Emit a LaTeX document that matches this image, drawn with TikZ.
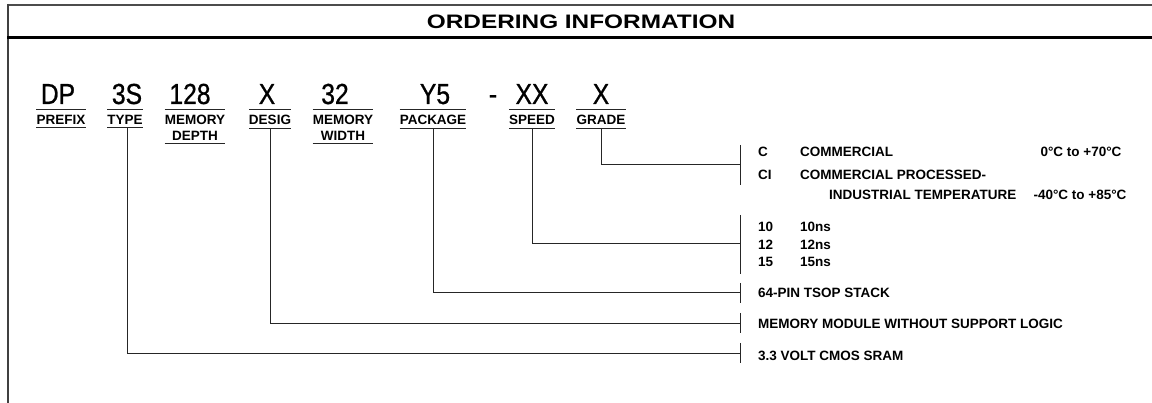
\documentclass[tikz,border=0pt]{standalone}
\usepackage{fontspec}
\setmainfont{Liberation Sans}
\newfontfamily\codefont[FakeStretch=0.85,FakeBold=0.8]{Liberation Sans}
\newfontfamily\headfont[FakeStretch=1.25]{Liberation Sans}
\newfontfamily\lblfont[FakeStretch=1.0]{Liberation Sans}

\begin{document}
\begin{tikzpicture}[x=1pt,y=-1pt]
    \pgfmathsetmacro{\tickx}{740}
    \pgfmathsetmacro{\colA}{758}
    \pgfmathsetmacro{\colB}{800}
    \pgfmathsetmacro{\codey}{104}
    \pgfmathsetmacro{\labely}{115}
    \providecommand{\headfontsize}{\headfont\bfseries\fontsize{19.5pt}{22pt}\selectfont}
    \providecommand{\codefontsize}{\codefont\fontsize{29pt}{31pt}\selectfont}
    \providecommand{\labelfontsize}{\lblfont\bfseries\fontsize{13.5pt}{15.5pt}\selectfont}
    \providecommand{\optfontsize}{\bfseries\fontsize{13.5pt}{15pt}\selectfont}
    \tikzset{
        code/.style={anchor=base,font=\codefontsize,inner sep=0},
        lbl/.style={anchor=north,font=\labelfontsize,align=center,inner sep=0},
        opt/.style={anchor=base west,font=\optfontsize,inner sep=0},
        conn/.style={line width=0.9pt,black!85}
    }
    \useasboundingbox (0,0) rectangle (1152,403);
    % frame and header
    \draw[line width=2pt,black!70] (8,5) -- (1152,5);
    \draw[line width=2pt,black!75] (8,4) -- (8,403);
    \draw[line width=3pt] (7,38) -- (1152,38);
    \node[font=\headfontsize,inner sep=0] (title) at (581,22) {ORDERING INFORMATION};
    % part number fields
    \node[code] (dp) at (58,\codey) {DP};
    \node[code] (ts) at (127,\codey) {3S};
    \node[code] (depthval) at (190,\codey) {128};
    \node[code] (desigval) at (267,\codey) {X};
    \node[code] (widthval) at (335,\codey) {32};
    \node[code] (pkgval) at (435,\codey) {Y5};
    \node[code] (dash) at (493,\codey) {-};
    \node[code] (speedval) at (532,\codey) {XX};
    \node[code] (gradeval) at (601,\codey) {X};
    \node[lbl] (prefix) at (61,\labely) {PREFIX};
    \node[lbl] (type) at (125,\labely) {TYPE};
    \node[lbl] (memdepth) at (195,\labely) {MEMORY\\DEPTH};
    \node[lbl] (desig) at (270,\labely) {DESIG};
    \node[lbl] (memwidth) at (343,\labely) {MEMORY\\WIDTH};
    \node[lbl] (package) at (433,\labely) {PACKAGE};
    \node[lbl] (speed) at (532,\labely) {SPEED};
    \node[lbl] (grade) at (601,\labely) {GRADE};
    \foreach \lbl in {prefix,type,memdepth,desig,memwidth,package,speed,grade}
        \draw[conn] ([yshift=6pt]\lbl.north west) -- ([yshift=6pt]\lbl.north east)
            ([yshift=-3pt]\lbl.south west) -- ([yshift=-3pt]\lbl.south east);
    % options
    \node[opt] (gc) at (\colA,157) {C};
    \node[opt] (gctext) at (\colB,157) {COMMERCIAL};
    \node[opt,anchor=base] (gctemp) at (1081,157) {0°C to +70°C};
    \node[opt] (gci) at (\colA,180) {CI};
    \node[opt] (gcitext) at (\colB,180) {COMMERCIAL PROCESSED-};
    \node[opt] (gind) at (829,200) {INDUSTRIAL TEMPERATURE};
    \node[opt,anchor=base] (gindtemp) at (1080,200) {-40°C to +85°C};
    \node[opt] (s10) at (\colA,232) {10};
    \node[opt] (s10text) at (\colB,232) {10ns};
    \node[opt] (s12) at (\colA,250) {12};
    \node[opt] (s12text) at (\colB,250) {12ns};
    \node[opt] (s15) at (\colA,267) {15};
    \node[opt] (s15text) at (\colB,267) {15ns};
    \node[opt] (pkgtext) at (\colA,298) {64-PIN TSOP STACK};
    \node[opt] (desigtext) at (\colA,329) {MEMORY MODULE WITHOUT SUPPORT LOGIC};
    \node[opt] (typetext) at (\colA,361) {3.3 VOLT CMOS SRAM};
    % brackets
    \coordinate (gradetick) at (\tickx,164);
    \coordinate (speedtick) at (\tickx,243);
    \coordinate (pkgtick) at (\tickx,292);
    \coordinate (desigtick) at (\tickx,323);
    \coordinate (typetick) at (\tickx,353);
    \draw[conn] (\tickx,145) -- (\tickx,185);
    \draw[conn] (\tickx,215) -- (\tickx,274);
    \draw[conn] (\tickx,283) -- (\tickx,303);
    \draw[conn] (\tickx,313) -- (\tickx,333);
    \draw[conn] (\tickx,343) -- (\tickx,363);
    \draw[conn] ([yshift=-3pt]grade.south) |- (gradetick);
    \draw[conn] ([yshift=-3pt]speed.south) |- (speedtick);
    \draw[conn] ([yshift=-3pt]package.south) |- (pkgtick);
    \draw[conn] ([yshift=-3pt]desig.south) |- (desigtick);
    \draw[conn] ([xshift=2pt,yshift=-3pt]type.south) |- (typetick);
\end{tikzpicture}
\end{document}
